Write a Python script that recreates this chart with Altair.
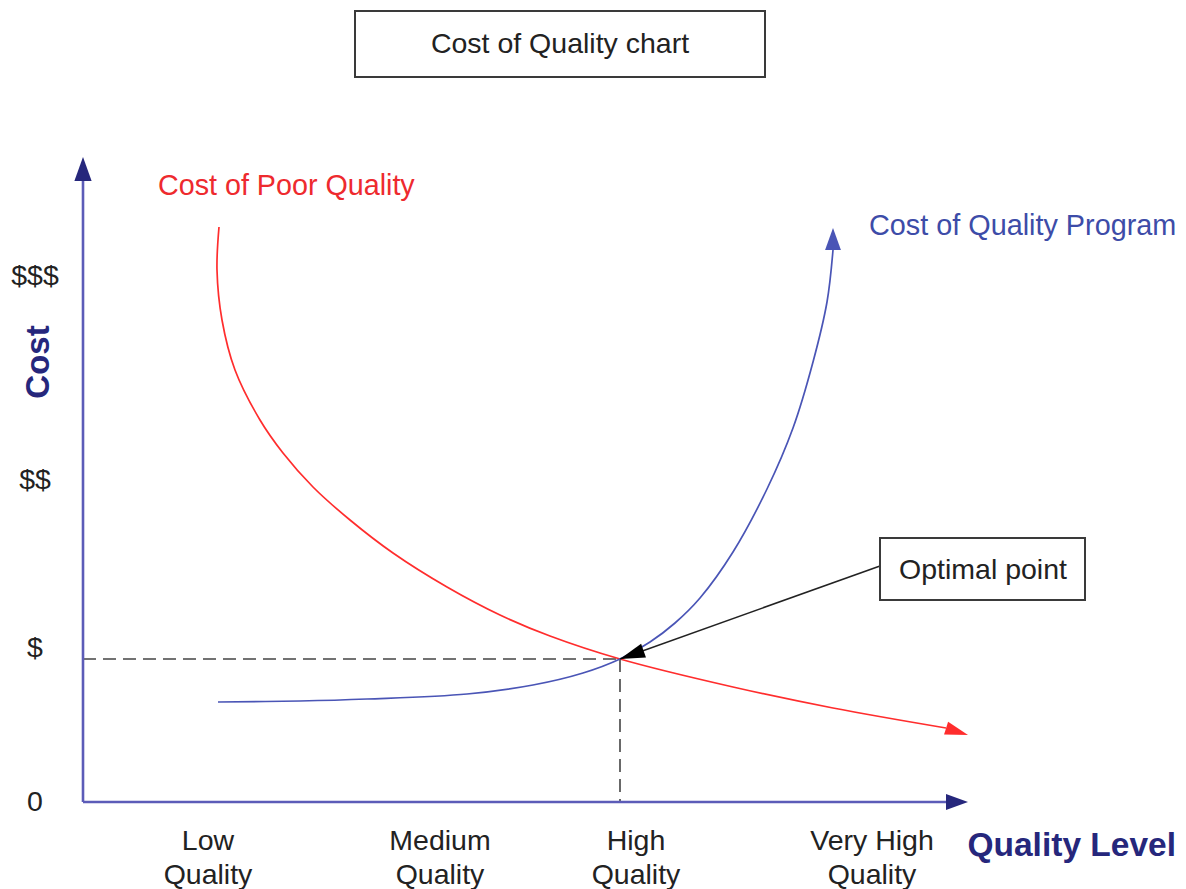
import math
import altair as alt
import pandas as pd

# ---- data (chart units: quality level along x, cost along y; axis origin = 0,0) ----
poor_q = [1.36, 1.34, 1.39, 1.52, 1.77, 2.00, 2.30, 2.67, 3.10, 3.64, 4.17, 4.67, 5.37, 6.50, 7.50, 8.63]
poor_c = [5.75, 5.32, 4.82, 4.32, 3.82, 3.49, 3.15, 2.82, 2.49, 2.15, 1.87, 1.66, 1.43, 1.15, 0.94, 0.74]
poor_tip = [8.85, 0.67]

prog_q = [1.35, 2.17, 2.84, 3.84, 4.50, 5.00, 5.37, 5.67, 5.92, 6.17, 6.50, 6.84, 7.10, 7.30, 7.44, 7.50]
prog_c = [1.00, 1.01, 1.03, 1.08, 1.17, 1.29, 1.43, 1.60, 1.79, 2.04, 2.50, 3.13, 3.74, 4.40, 5.00, 5.52]
prog_tip = [7.50, 5.74]

optimal = [5.37, 1.43]
callout_from = [7.97, 2.36]

x_axis_tip = [8.85, 0.0]
y_axis_tip = [0.0, 6.45]

cost_labels = ["0", "$", "$$", "$$$"]
cost_values = [0.0, 1.54, 3.22, 5.26]

quality_line1 = ["Low", "Medium", "High", "Very High"]
quality_line2 = ["Quality", "Quality", "Quality", "Quality"]
quality_values = [1.25, 3.57, 5.53, 7.89]

title_box = {"q": 2.72, "q2": 6.82, "c": 7.25, "c2": 7.91}
optimal_box = {"q": 7.97, "q2": 10.02, "c": 2.02, "c2": 2.64}

# ---- styles ----
FONT = "Liberation Sans"
RED = "#ff2d2d"
RED_TEXT = "#ee2a2e"
BLUE = "#4a55b6"
BLUE_TEXT = "#3d4ca8"
AXIS = "#5c5cb8"
NAVY = "#26277c"
INK = "#222222"

xs = alt.Scale(domain=[-0.75, 10.95], nice=False, zero=False)
ys = alt.Scale(domain=[-0.87, 7.94], nice=False, zero=False)


def X(f="q"):
    return alt.X(f"{f}:Q", scale=xs, axis=None)


def Y(f="c"):
    return alt.Y(f"{f}:Q", scale=ys, axis=None)


# dashed guide lines to the optimal point
guides = pd.DataFrame({
    "q": [0.0, optimal[0]], "c": [optimal[1], optimal[1]],
    "q2": [optimal[0], optimal[0]], "c2": [optimal[1], 0.0],
})
guide_layer = alt.Chart(guides).mark_rule(
    color="#444444", strokeWidth=1.6, strokeDash=[13, 7]
).encode(x=X(), y=Y(), x2="q2:Q", y2="c2:Q")

# curves
curves = pd.DataFrame({
    "q": poor_q + prog_q,
    "c": poor_c + prog_c,
    "series": ["Cost of Poor Quality"] * len(poor_q) + ["Cost of Quality Program"] * len(prog_q),
    "i": list(range(len(poor_q))) + list(range(len(prog_q))),
})
curve_layer = alt.Chart(curves).mark_line(
    interpolate="catmull-rom", strokeWidth=1.7
).encode(
    x=X(), y=Y(),
    color=alt.Color("series:N", legend=None,
                    scale=alt.Scale(domain=["Cost of Poor Quality", "Cost of Quality Program"],
                                    range=[RED, BLUE])),
    order="i:Q",
)

# axes
axes = pd.DataFrame({
    "q": [0.0, 0.0], "c": [0.0, 0.0],
    "q2": [x_axis_tip[0] - 0.20, 0.0], "c2": [0.0, y_axis_tip[1] - 0.22],
})
axis_layer = alt.Chart(axes).mark_rule(color=AXIS, strokeWidth=2.6).encode(
    x=X(), y=Y(), x2="q2:Q", y2="c2:Q")

# callout line
callout = pd.DataFrame({"q": [callout_from[0]], "c": [callout_from[1]],
                        "q2": [optimal[0]], "c2": [optimal[1]]})
callout_layer = alt.Chart(callout).mark_rule(color=INK, strokeWidth=1.6).encode(
    x=X(), y=Y(), x2="q2:Q", y2="c2:Q")


# arrowheads
def heading(frm, to):
    ang = math.degrees(math.atan2(to[0] - frm[0], to[1] - frm[1]))
    return ang % 360


WIDE = "M0,0L0.72,2L-0.72,2Z"
NARROW = "M0,0L0.58,2L-0.58,2Z"
arrows = pd.DataFrame({
    "q": [y_axis_tip[0], x_axis_tip[0], poor_tip[0], prog_tip[0], optimal[0]],
    "c": [y_axis_tip[1], x_axis_tip[1], poor_tip[1], prog_tip[1], optimal[1]],
    "angle": [
        heading([0, 0], y_axis_tip),
        heading([0, 0], x_axis_tip),
        heading([poor_q[-1], poor_c[-1]], poor_tip),
        heading([prog_q[-1], prog_c[-1]], prog_tip),
        heading(callout_from, optimal),
    ],
    "size": [24 ** 2, 22 ** 2, 23 ** 2, 22 ** 2, 25 ** 2],
    "shape": [WIDE, WIDE, NARROW, WIDE, NARROW],
    "color": [NAVY, NAVY, RED, BLUE, "#000000"],
})
arrow_layer = alt.Chart(arrows).mark_point(filled=True, opacity=1, strokeWidth=0).encode(
    x=X(), y=Y(),
    angle=alt.Angle("angle:Q", scale=None),
    size=alt.Size("size:Q", scale=None, legend=None),
    shape=alt.Shape("shape:N", scale=None, legend=None),
    color=alt.Color("color:N", scale=None, legend=None),
)

# boxes
boxes = pd.DataFrame([title_box, optimal_box])
box_layer = alt.Chart(boxes).mark_rect(
    fill="white", stroke="#3a3a3a", strokeWidth=2
).encode(x=X(), x2="q2:Q", y=Y(), y2="c2:Q")


def text_layer(rows, **kw):
    df = pd.DataFrame(rows, columns=["q", "c", "label"])
    return alt.Chart(df).mark_text(font=FONT, baseline="middle", **kw).encode(
        x=X(), y=Y(), text="label:N")


title_text = text_layer([[4.77, 7.58, "Cost of Quality chart"]], fontSize=28.5, color=INK, align="center")
optimal_text = text_layer([[9.0, 2.32, "Optimal point"]], fontSize=28.5, color=INK, align="center")
poor_text = text_layer([[0.75, 6.16, "Cost of Poor Quality"]], fontSize=28.7, color=RED_TEXT, align="left")
prog_text = text_layer([[7.86, 5.76, "Cost of Quality Program"]], fontSize=28.8, color=BLUE_TEXT, align="left")
cost_text = text_layer([[-0.48, v, l] for v, l in zip(cost_values, cost_labels)],
                       fontSize=28.5, color=INK, align="center")
q1_text = text_layer([[v, -0.39, l] for v, l in zip(quality_values, quality_line1)],
                     fontSize=28.5, color=INK, align="center")
q2_text = text_layer([[v, -0.73, l] for v, l in zip(quality_values, quality_line2)],
                     fontSize=28.5, color=INK, align="center")
xtitle = text_layer([[10.93, -0.44, "Quality Level"]], fontSize=33.5, fontWeight="bold",
                    color=NAVY, align="right")
ytitle = text_layer([[-0.44, 4.40, "Cost"]], fontSize=33, fontWeight="bold",
                    color=NAVY, align="center", angle=270)

chart = alt.layer(
    guide_layer, curve_layer, axis_layer, callout_layer, arrow_layer, box_layer,
    title_text, optimal_text, poor_text, prog_text, cost_text, q1_text, q2_text, xtitle, ytitle,
).properties(
    width=1170, height=881, padding=0, autosize="none", background="white"
).configure_view(stroke=None)

chart.save("out.html", embed_options={"renderer": "svg", "actions": False})
